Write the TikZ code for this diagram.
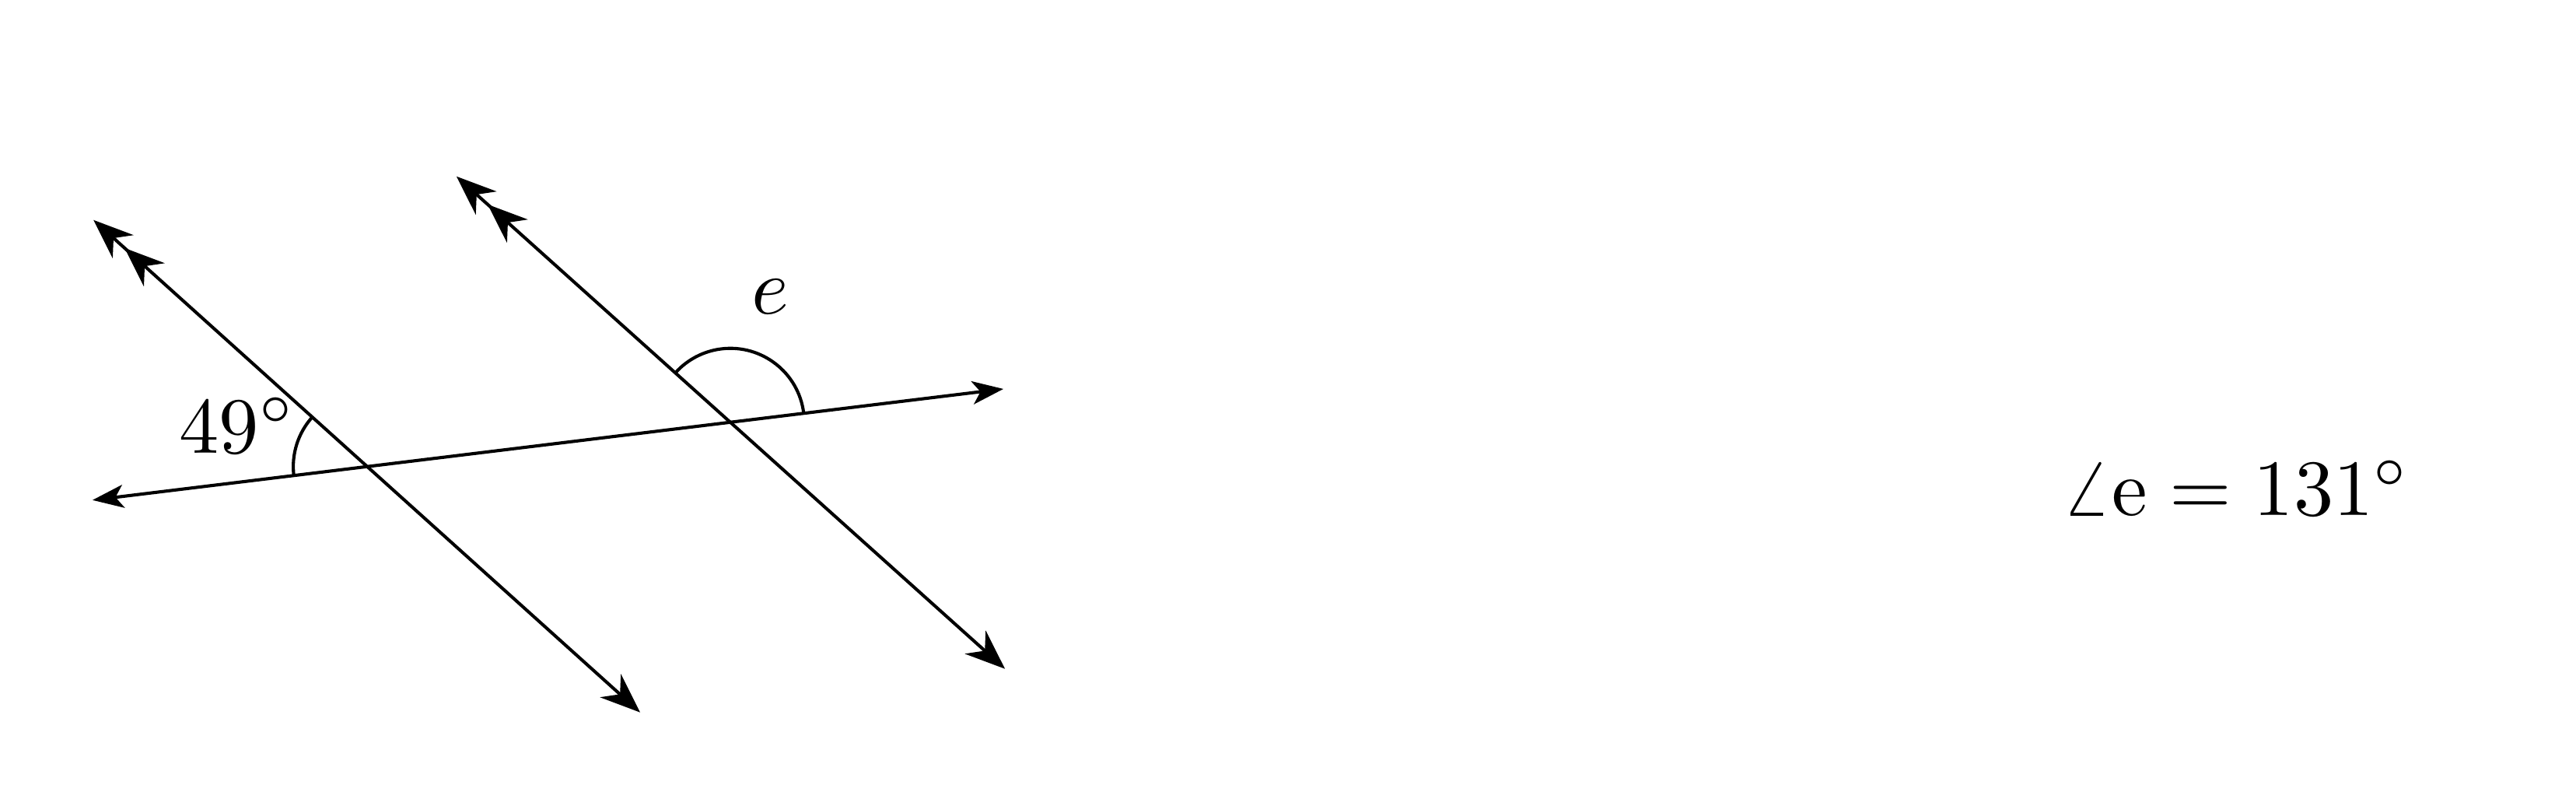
\documentclass[tikz,border=0pt]{standalone}
\usetikzlibrary{arrows.meta,decorations.markings,calc}

\begin{document}
\begin{tikzpicture}[thin,
    ptip/.tip = {Stealth[length = 5pt, width = 3.9pt, inset = 1.6pt]},
    ttip/.tip = {Stealth[length = 3.9pt, width = 2.9pt, inset = 1pt]},
    parline/.style = {ptip-ptip, postaction = {decorate, decoration = {markings,
        mark = at position 0.185cm with {\arrowreversed{ptip}}}}},
    transline/.style = {ttip-ttip}]
    \useasboundingbox (0,0) rectangle (11.36,3.553);
        % the two parallels and the transversal
        \coordinate (p1a) at (0.412,2.583);
        \coordinate (p1b) at (2.823,0.412);
        \coordinate (p2a) at (2.013,2.775);
        \coordinate (p2b) at (4.432,0.604);
        \coordinate (t1) at (0.408,1.348);
        \coordinate (t2) at (4.425,1.838);
        \draw[parline] (p1a) -- (p1b);
        \draw[parline] (p2a) -- (p2b);
        \draw[transline] (t1) -- (t2);
        \coordinate (x1) at (intersection of p1a--p1b and t1--t2);
        \coordinate (x2) at (intersection of p2a--p2b and t1--t2);
        % angle marks
        \draw ($(x1)+(138:0.326)$) arc[start angle = 138, end angle = 187, radius = 0.326];
        \draw ($(x2)+(7:0.326)$) arc[start angle = 7, end angle = 138, radius = 0.326];
        \node (given) at ($(x1)+(162.4:0.6)$) {$49^\circ$};
        \node (angle) at ($(x2)+(72.4:0.58)$) {$e$};
        \node[anchor = base] (answer) at (9.86,1.28) {$\angle \mathrm{e} = 131^\circ$};
\end{tikzpicture}
\end{document}
